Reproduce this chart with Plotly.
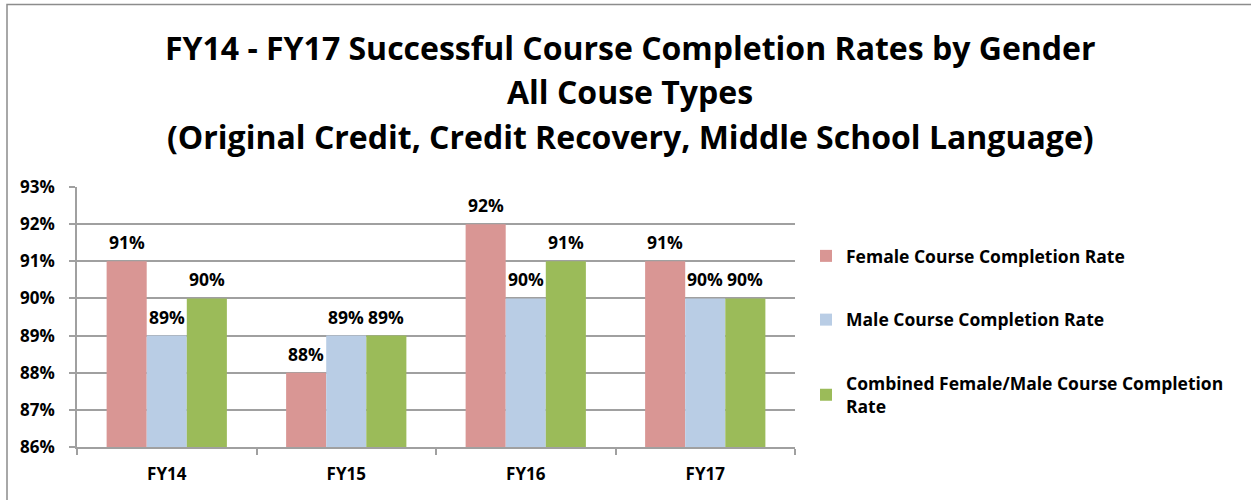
import plotly.graph_objects as go

categories = ["FY14", "FY15", "FY16", "FY17"]
female = [0.91, 0.88, 0.92, 0.91]
male = [0.89, 0.89, 0.90, 0.90]
combined = [0.90, 0.89, 0.91, 0.90]
series_names = [
    "Female Course Completion Rate",
    "Male Course Completion Rate",
    "Combined Female/Male Course Completion<br>Rate",
]
colors = ["#D99694", "#B9CDE5", "#9BBB59"]
title_lines = [
    "FY14 - FY17 Successful Course Completion Rates by Gender",
    "All Couse Types",
    "(Original Credit, Credit Recovery, Middle School Language)",
]

FONT = "Open Sans"
W, H = 1251, 500
L, R, T, B = 77, 795, 187, 447  # plot area pixel bounds
BARGAP = 0.33

def px_to_paper_x(px):
    return (px - L) / (R - L)

def px_to_paper_y(py):
    return (B - py) / (B - T)

fig = go.Figure()
series = [female, male, combined]
n = len(series)
bar_w = (1 - BARGAP) / n
annotations = []
for k, (vals, name, col) in enumerate(zip(series, series_names, colors)):
    fig.add_trace(go.Bar(
        x=categories, y=vals, name=name, marker_color=col,
        marker_line_width=0,
        legendgroup=str(k),
    ))
    for idx, v in enumerate(vals):
        annotations.append(dict(
            x=idx + (k - (n - 1) / 2) * bar_w, y=v, xref="x", yref="y",
            text=f"{v:.0%}", showarrow=False, xanchor="center", yanchor="bottom",
            yshift=5,
            font=dict(family=FONT, size=17.5, color="black", weight="bold"),
        ))

title_y = [48, 92, 136]
for line, y in zip(title_lines, title_y):
    annotations.append(dict(
        text=line, x=px_to_paper_x(630), y=px_to_paper_y(y),
        xref="paper", yref="paper", xanchor="center", yanchor="middle",
        showarrow=False,
        font=dict(family=FONT, size=32, color="black", weight="bold"),
    ))

fig.update_layout(
    width=W, height=H,
    margin=dict(l=L, r=W - R, t=T, b=H - B, pad=0),
    paper_bgcolor="white", plot_bgcolor="white",
    barmode="group", bargap=BARGAP, bargroupgap=0,
    font=dict(family=FONT, color="black"),
    showlegend=True,
    legend=dict(
        x=px_to_paper_x(806), y=px_to_paper_y(238), xanchor="left", yanchor="top",
        font=dict(family=FONT, size=17.5, color="black", weight="bold"),
        traceorder="grouped", tracegroupgap=38,
        bgcolor="rgba(0,0,0,0)",
    ),
    annotations=annotations,
    shapes=[dict(
        type="rect", xref="paper", yref="paper",
        x0=px_to_paper_x(7), x1=px_to_paper_x(1300),
        y0=px_to_paper_y(560), y1=px_to_paper_y(4.5),
        line=dict(color="#8C8C8C", width=1.5), fillcolor="rgba(0,0,0,0)", layer="below",
    )],
)

fig.update_yaxes(
    range=[0.86, 0.93], dtick=0.01, tickformat=".0%",
    showgrid=True, gridcolor="#A0A0A0", gridwidth=1.5,
    showline=True, linecolor="#A0A0A0", linewidth=1.5,
    ticks="outside", ticklen=6, tickcolor="#A0A0A0", tickwidth=1.5,
    ticklabelstandoff=11,
    tickfont=dict(family=FONT, size=17, color="black", weight="bold"),
    zeroline=False,
)
fig.update_xaxes(
    showline=True, linecolor="#A0A0A0", linewidth=1.5,
    ticks="outside", ticklen=6, tickcolor="#A0A0A0", tickwidth=1.5,
    tickson="boundaries",
    ticklabelstandoff=11,
    tickfont=dict(family=FONT, size=17, color="black", weight="bold"),
    showgrid=False,
)

fig.write_html("out.html", config={"displayModeBar": False},
               post_script="document.body.style.margin='0';")
